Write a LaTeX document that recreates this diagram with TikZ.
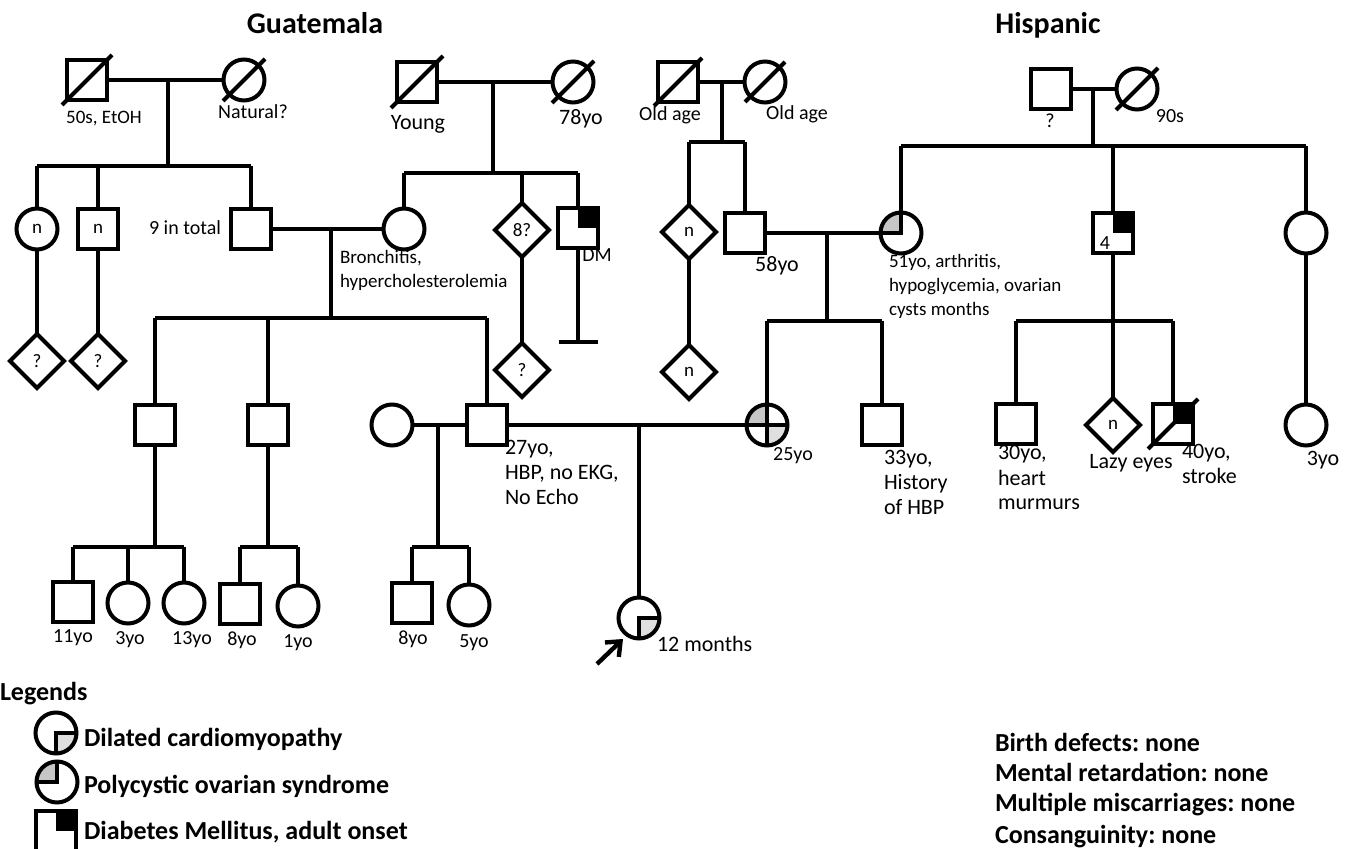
\documentclass[tikz,border=0pt]{standalone}
\usepackage{fontspec}
\setmainfont{Carlito}
\frenchspacing
\usetikzlibrary{backgrounds,arrows.meta,shapes.geometric}
\newcommand\decd[2]{\draw (#1) ++(-#2,-#2) -- ++(2*#2,2*#2);}
\newcommand\qfill[3]{\begin{scope}\clip (#1.center) rectangle ++(#2); \fill[#3] (#1.center) circle (10.25pt);\end{scope}}
\begin{document}
\begin{tikzpicture}[x=0.5pt,y=0.5pt,line width=2pt,
 every node/.append style={inner sep=0pt,outer sep=0pt},
 male/.style={draw,rectangle,minimum size=20pt,font=\fontsize{9.5}{11}\selectfont},
 female/.style={draw,circle,minimum size=20.5pt,font=\fontsize{9.5}{11}\selectfont},
 unk/.style={draw,diamond,minimum size=27pt,font=\fontsize{9.5}{11}\selectfont},
 lbl/.style={font=\fontsize{10}{12}\selectfont,align=left},
 lsm/.style={font=\fontsize{9.5}{12}\selectfont,align=left},
 lbig/.style={font=\fontsize{11}{12.5}\selectfont,align=left},
 ttl/.style={font=\fontsize{15}{18}\selectfont\bfseries},
 leg/.style={font=\fontsize{13}{15}\selectfont\bfseries}]
\useasboundingbox (0,0) rectangle (1349,-849);

% titles
\node[ttl,anchor=base] (tG) at (315,-34) {Guatemala};
\node[ttl,anchor=base] (tH) at (1048,-34) {Hispanic};

% ---------- Guatemala, left grandparents
\node[male] (a1) at (87,-80) {};
\node[female] (a2) at (244,-80) {};
\decd{a1}{25} \decd{a2}{21}
\coordinate (mA) at (168,-80); \coordinate (sA) at (168,-166);
\draw (a1) -- (a2); \draw (mA) -- (sA);
\node[female] (b1) at (37,-229) {n};
\node[male] (b2) at (98,-229) {n};
\node[male] (b3) at (251,-229) {};
\draw (sA -| b1) -- (sA -| b3);
\draw (sA -| b1) -- (b1); \draw (sA -| b2) -- (b2); \draw (sA -| b3) -- (b3);
\node[unk] (c1) at (37,-361) {?};
\node[unk] (c2) at (98,-361) {?};
\draw (b1) -- (c1); \draw (b2) -- (c2);

% ---------- Guatemala, right grandparents
\node[male] (d1) at (417,-82) {};
\node[female] (d2) at (573,-82) {};
\decd{d1}{26} \decd{d2}{21}
\coordinate (mD) at (493,-82); \coordinate (sD) at (493,-173);
\draw (d1) -- (d2); \draw (mD) -- (sD);
\node[female] (b4) at (404,-229) {};
\node[unk] (e1) at (522,-230) {8?};
\node[male] (e2) at (578,-228) {};
\fill (e2.center) rectangle (e2.north east);
\draw (sD -| b4) -- (sD -| e2);
\draw (sD -| b4) -- (b4); \draw (sD -| e1) -- (e1); \draw (sD -| e2) -- (e2);
\node[unk] (e3) at (522,-370) {?};
\draw (e1) -- (e3);
\coordinate (eT) at (578,-342);
\draw (e2) -- (eT);
\draw ([xshift=-9.75pt]eT) -- ([xshift=9.75pt]eT);

% labels gen I/II Guatemala
\node[lsm,anchor=base] (l50) at (104,-124) {50s, EtOH};
\node[lbl,anchor=base] (lnat) at (253,-119) {Natural?};
\node[lbig,anchor=base] (lyo) at (418,-130) {Young};
\node[lbig,anchor=base] (l78) at (581,-125) {78yo};
\node[lbl,anchor=base east] (l9) at (221,-235) {9 in total};
\node[lsm,anchor=base west] (lbr) at (340,-288) {Bronchitis,\\hypercholesterolemia};
\node[lbl,anchor=base] (ldm) at (597,-262) {DM};

% marriage b3-b4
\draw (b3) -- (b4);
\coordinate (mB) at (331,-229); \coordinate (sB) at (331,-318);
\draw (mB) -- (sB);
\node[male] (f1) at (155,-425) {};
\node[male] (f2) at (268,-425) {};
\node[male] (f3) at (487,-425) {};
\draw (sB -| f1) -- (sB -| f3);
\draw (sB -| f1) -- (f1); \draw (sB -| f2) -- (f2); \draw (sB -| f3) -- (f3);

% ---------- Old age grandparents
\node[male] (g1) at (678,-82) {};
\node[female] (g2) at (765,-82) {};
\decd{g1}{24} \decd{g2}{20}
\coordinate (mG) at (722,-82); \coordinate (sG) at (722,-142);
\draw (g1) -- (g2); \draw (mG) -- (sG);
\node[unk] (h1) at (689,-232) {n};
\node[male] (h2) at (745,-233) {};
\draw (sG -| h1) -- (sG -| h2);
\draw (sG -| h1) -- (h1); \draw (sG -| h2) -- (h2);
\node[unk] (h3) at (689,-372) {n};
\draw (h1) -- (h3);
\node[lbl,anchor=base] (lo1) at (670,-121) {Old age};
\node[lbl,anchor=base] (lo2) at (797,-120) {Old age};
\node[lbig,anchor=base] (l58) at (777,-272) {58yo};

% ---------- Hispanic grandparents
\node[male] (i1) at (1051,-89) {};
\node[female] (i2) at (1137,-89) {};
\decd{i2}{21}
\coordinate (mI) at (1093,-89); \coordinate (sI) at (1093,-146);
\draw (i1) -- (i2); \draw (mI) -- (sI);
\node[female] (h4) at (901,-233) {};
\node[male] (j1) at (1113,-233) {};
\node[female] (j2) at (1306,-233) {};
\draw (sI -| h4) -- (sI -| j2);
\draw (sI -| h4) -- (h4); \draw (sI -| j1) -- (j1); \draw (sI -| j2) -- (j2);
\fill (j1.center) rectangle (j1.north east);
\node[font=\fontsize{10}{11}\selectfont] (j1n) at (1105,-243) {4};
\node[lbl,anchor=base] (lq) at (1050,-128) {?};
\node[lbl,anchor=base] (l90) at (1170,-123) {90s};
\node[lsm,anchor=base west] (l51) at (889,-316) {51yo, arthritis,\\hypoglycemia, ovarian\\cysts months};

% marriage h2-h4
\draw (h2) -- (h4);
\coordinate (mH) at (827,-233); \coordinate (sH) at (827,-321);
\draw (mH) -- (sH);
\node[female] (k1) at (767,-425) {};
\node[male] (k2) at (882,-425) {};
\draw (sH -| k1) -- (sH -| k2);
\draw (sH -| k1) -- (k1); \draw (sH -| k2) -- (k2);
\node[lbl,anchor=base] (l25) at (793,-461) {25yo};
\node[lbig,anchor=base west] (l33) at (884,-515) {33yo,\\History\\of HBP};

% children of j1
\coordinate (sJ) at (1113,-321);
\draw (j1) -- (sJ);
\node[male] (l1) at (1016,-424) {};
\node[unk] (l2) at (1113,-425) {n};
\node[male] (l3) at (1173,-424) {};
\fill (l3.center) rectangle (l3.north east);
\decd{l3}{25}
\draw (sJ -| l1) -- (sJ -| l3);
\draw (sJ -| l1) -- (l1); \draw (sJ) -- (l2); \draw (sJ -| l3) -- (l3);
\node[female] (m1) at (1306,-425) {};
\draw (j2) -- (m1);
\node[lbig,anchor=base west] (l30) at (998,-510) {30yo,\\heart\\murmurs};
\node[lbig,anchor=base] (llz) at (1131,-469) {Lazy eyes};
\node[lbig,anchor=base west] (l40) at (1182,-484) {40yo,\\stroke};
\node[lbig,anchor=base] (l3y) at (1323,-466) {3yo};

% ---------- generation III / IV
\node[female] (o1) at (392,-425) {};
\draw (o1) -- (f3);
\coordinate (mO) at (438,-425); \coordinate (sO) at (438,-547);
\draw (mO) -- (sO);
\draw (f3) -- (k1);
\coordinate (mF) at (639,-425);
\node[female] (p1) at (639,-618) {};
\draw (mF) -- (p1);
\node[lbig,anchor=base west] (l27) at (505,-505) {27yo,\\HBP, no EKG,\\No Echo};
\node[lbig,anchor=base west] (l12) at (657,-652) {12 months};
\coordinate (arS) at (597,-664); \coordinate (arT) at (623,-639);
\draw[line width=2.2pt,-{Straight Barb[length=6pt,width=10pt,line width=2.2pt]}] (arS) -- (arT);

\coordinate (sF1) at (155,-547);
\draw (f1) -- (sF1);
\node[male] (n1) at (73,-602) {};
\node[female] (n2) at (128,-603) {};
\node[female] (n3) at (184,-603) {};
\draw (sF1 -| n1) -- (sF1 -| n3);
\draw (sF1 -| n1) -- (n1); \draw (sF1 -| n2) -- (n2); \draw (sF1 -| n3) -- (n3);

\coordinate (sF2) at (268,-547);
\draw (f2) -- (sF2);
\node[male] (n4) at (240,-604) {};
\node[female] (n5) at (298,-606) {};
\draw (sF2 -| n4) -- (sF2 -| n5);
\draw (sF2 -| n4) -- (n4); \draw (sF2 -| n5) -- (n5);

\node[male] (n6) at (412,-603) {};
\node[female] (n7) at (469,-605) {};
\draw (sO -| n6) -- (sO -| n7);
\draw (sO -| n6) -- (n6); \draw (sO -| n7) -- (n7);

\node[lbl,anchor=base] (a11) at (73,-642) {11yo};
\node[lbl,anchor=base] (a3) at (130,-644) {3yo};
\node[lbl,anchor=base] (a13) at (192,-644) {13yo};
\node[lbl,anchor=base] (a8) at (242,-646) {8yo};
\node[lbl,anchor=base] (a1y) at (298,-647) {1yo};
\node[lbl,anchor=base] (a8b) at (413,-645) {8yo};
\node[lbl,anchor=base] (a5) at (474,-647) {5yo};

% ---------- legend
\node[leg,anchor=base west] (lg) at (0,-700) {Legends};
\node[female] (q1) at (56,-733) {};
\node[female] (q2) at (57,-782) {};
\node[male] (q3) at (56,-831) {};
\fill (q3.center) rectangle (q3.north east);
\node[leg,anchor=base west] (lq1) at (84,-746) {Dilated cardiomyopathy};
\node[leg,anchor=base west] (lq2) at (84,-793) {Polycystic ovarian syndrome};
\node[leg,anchor=base west] (lq3) at (84,-839) {Diabetes Mellitus, adult onset};

\node[leg,anchor=base west] (r1) at (995,-751) {Birth defects: none};
\node[leg,anchor=base west] (r2) at (995,-781) {Mental retardation: none};
\node[leg,anchor=base west] (r3) at (995,-811) {Multiple miscarriages: none};
\node[leg,anchor=base west] (r4) at (995,-843) {Consanguinity: none};

% ---------- quadrant shading
\begin{scope}[on background layer]
\qfill{h4}{-12pt,12pt}{gray!45}
\qfill{k1}{-12pt,12pt}{gray!45}
\qfill{k1}{12pt,-12pt}{gray!25}
\qfill{p1}{12pt,-12pt}{gray!25}
\qfill{q1}{12pt,-12pt}{gray!25}
\qfill{q2}{-12pt,12pt}{gray!45}
\end{scope}
\draw (h4.north) -- (h4.center) -- (h4.west);
\draw (k1.north) -- (k1.south) (k1.west) -- (k1.east);
\draw (p1.east) -- (p1.center) -- (p1.south);
\draw (q1.east) -- (q1.center) -- (q1.south);
\draw (q2.north) -- (q2.center) -- (q2.west);
\end{tikzpicture}
\end{document}
